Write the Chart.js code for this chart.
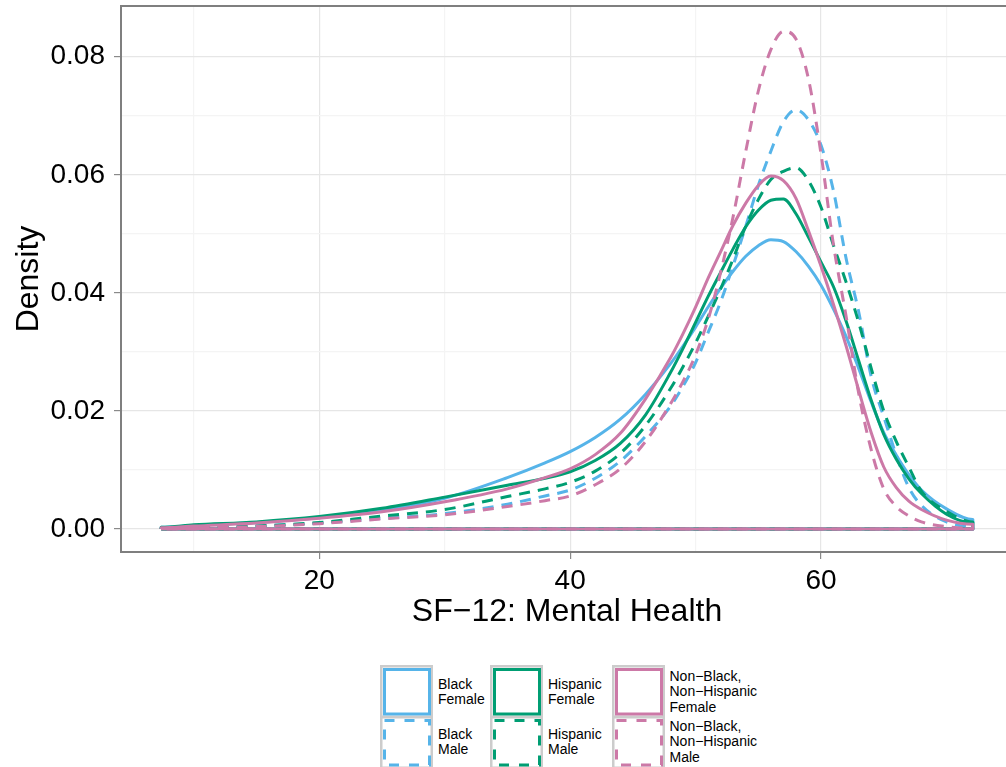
<!DOCTYPE html>
<html><head><meta charset="utf-8">
<script src="https://cdn.jsdelivr.net/npm/chart.js@4.4.1/dist/chart.umd.min.js"></script>
<style>
html,body{margin:0;padding:0;background:#fff;width:1006px;height:767px;overflow:hidden;position:relative;font-family:"Liberation Sans",Arial,sans-serif;}
#c{position:absolute;left:0;top:0;}
.key{position:absolute;top:665px;}
.lab{position:absolute;display:flex;align-items:center;font-size:14px;line-height:15.5px;color:#000;height:52px;white-space:nowrap;}
</style></head><body>
<canvas id="c" width="1020" height="650"></canvas>
<div id="legend"></div>
<script>
// ---- data ----
const xValues = [7.4,10,15,20,25,30,35,38,40,42,44,46,48,49,50,51,52,53,54,55,56,57,58,59,60,61,62,63,64,65,66,67,68,70,72.1];
const blackFemale    = [.0003,.0006,.0011,.0019,.0032,.0052,.0087,.0112,.0131,.0155,.0186,.0228,.0280,.0310,.0342,.0376,.0408,.0437,.0462,.0480,.0490,.0487,.0470,.0445,.0413,.0372,.0326,.0272,.0215,.0163,.0125,.0092,.0066,.0034,.0016];
const blackMale      = [.0001,.0002,.0005,.0010,.0018,.0026,.0042,.0056,.0066,.0086,.0115,.0157,.0208,.0242,.0282,.0333,.0385,.0447,.0513,.0582,.0640,.0690,.0710,.0693,.0650,.0572,.0458,.0368,.0258,.0190,.0125,.0070,.0040,.0012,.0004];
const hispanicFemale = [.0003,.0007,.0012,.0021,.0035,.0054,.0074,.0086,.0097,.0116,.0145,.0193,.0265,.0306,.0350,.0394,.0435,.0475,.0512,.0540,.0557,.0559,.0534,.0494,.0452,.0410,.0352,.0285,.0218,.0160,.0118,.0085,.0060,.0025,.0010];
const hispanicMale   = [.0001,.0002,.0005,.0011,.0022,.0033,.0055,.0068,.0079,.0098,.0128,.0175,.0238,.0275,.0315,.0360,.0407,.0458,.0513,.0558,.0592,.0606,.0612,.0590,.0545,.0480,.0418,.0350,.0272,.0200,.0148,.0105,.0064,.0030,.0012];
const otherFemale    = [.0002,.0005,.0010,.0018,.0029,.0046,.0068,.0087,.0102,.0126,.0162,.0220,.0290,.0331,.0376,.0425,.0470,.0515,.0552,.0582,.0598,.0590,.0560,.0505,.0445,.0380,.0310,.0235,.0163,.0105,.0070,.0047,.0033,.0015,.0008];
const otherMale      = [.0001,.0002,.0004,.0009,.0017,.0024,.0038,.0048,.0056,.0075,.0102,.0148,.0212,.0250,.0295,.0355,.0435,.0530,.0640,.0742,.0812,.0843,.0830,.0762,.0635,.0480,.0360,.0230,.0134,.0068,.0038,.0022,.0012,.0004,.0001];

const seriesNames = ['Black Female','Black Male','Hispanic Female','Hispanic Male','Non\u2212Black, Non\u2212Hispanic Female','Non\u2212Black, Non\u2212Hispanic Male'];
const seriesValues = [blackFemale, blackMale, hispanicFemale, hispanicMale, otherFemale, otherMale];
const seriesColors = ['#56B4E9','#56B4E9','#009E73','#009E73','#CC79A7','#CC79A7'];
const seriesDashed = [false,true,false,true,false,true];

const xTickValues = [10,20,30,40,50,60,70];
const xTickLabels = ['','20','','40','','60',''];
const yTickValues = [0,0.01,0.02,0.03,0.04,0.05,0.06,0.07,0.08];
const yTickLabels = ['0.00','','0.02','','0.04','','0.06','','0.08'];

const legendCols = [
  {names:['Black\nFemale','Black\nMale'], color:'#56B4E9'},
  {names:['Hispanic\nFemale','Hispanic\nMale'], color:'#009E73'},
  {names:['Non\u2212Black,\nNon\u2212Hispanic\nFemale','Non\u2212Black,\nNon\u2212Hispanic\nMale'], color:'#CC79A7'}
];

// density polygon outline (like geom_density): baseline -> curve -> baseline -> back
function polygon(ys){
  const pts = [{x:xValues[0], y:0}];
  xValues.forEach((x,i)=>pts.push({x:x, y:ys[i]}));
  pts.push({x:xValues[xValues.length-1], y:0});
  pts.push({x:xValues[0], y:0});
  return pts;
}

const datasets = seriesValues.map((ys,i)=>({
  label: seriesNames[i],
  data: polygon(ys),
  borderColor: seriesColors[i],
  backgroundColor: 'transparent',
  borderWidth: 3,
  borderDash: seriesDashed[i] ? [11,8] : [],
  borderJoinStyle: 'round',
  pointRadius: 0,
  fill: false,
  cubicInterpolationMode: 'monotone',
  order: seriesValues.length - i
}));

const panelBorder = {
  id:'panelBorder',
  afterDatasetsDraw(chart){
    const {ctx, chartArea:a} = chart;
    ctx.save();
    ctx.strokeStyle = '#7f7f7f';
    ctx.lineWidth = 2;
    ctx.strokeRect(a.left, a.top, a.right - a.left, a.bottom - a.top);
    ctx.restore();
  }
};

const tickFont = {family:'"Liberation Sans", Arial, sans-serif', size:28};
const titleFont = {family:'"Liberation Sans", Arial, sans-serif', size:32};

new Chart(document.getElementById('c'), {
  type:'line',
  data:{datasets},
  plugins:[panelBorder],
  options:{
    responsive:false,
    animation:false,
    layout:{padding:{top:6, right:7, left:0, bottom:0}},
    plugins:{legend:{display:false}, tooltip:{enabled:false}},
    scales:{
      x:{
        type:'linear', min:4.2, max:75.3,
        afterBuildTicks: s => { s.ticks = xTickValues.map(v=>({value:v})); },
        afterFit: s => { s.height = 98; s.paddingLeft = 0; s.paddingRight = 0; },
        ticks:{autoSkip:false, maxRotation:0, padding:5, color:'#000', font:tickFont,
          callback:(v,i)=>xTickLabels[i]},
        grid:{
          color: c => xTickLabels[c.index] ? '#e6e6e6' : '#f4f4f4',
          lineWidth: 1.2,
          tickColor: c => xTickLabels[c.index] ? '#8a8a8a' : 'rgba(0,0,0,0)',
          tickLength: 7, drawTicks:true
        },
        border:{display:false},
        title:{display:true, text:'SF\u221212: Mental Health', color:'#000', font:titleFont, padding:{top:0,bottom:19}}
      },
      y:{
        type:'linear', min:-0.0039, max:0.0886,
        afterBuildTicks: s => { s.ticks = yTickValues.map(v=>({value:v})); },
        afterFit: s => { s.width = 121; s.paddingTop = 0; s.paddingBottom = 0; },
        ticks:{autoSkip:false, padding:9, color:'#000', font:tickFont,
          callback:(v,i)=>yTickLabels[i]},
        grid:{
          color: c => yTickLabels[c.index] ? '#e6e6e6' : '#f4f4f4',
          lineWidth: 1.2,
          tickColor: c => yTickLabels[c.index] ? '#8a8a8a' : 'rgba(0,0,0,0)',
          tickLength: 7, drawTicks:true
        },
        border:{display:false},
        title:{display:true, text:'Density', color:'#000', font:titleFont, padding:{top:10,bottom:0}}
      }
    }
  }
});

// legend (HTML text + SVG keys)
const keyLefts = [380, 490, 611.5];
const legend = document.getElementById('legend');
legendCols.forEach((col, ci)=>{
  const left = keyLefts[ci];
  const svgNS = 'http://www.w3.org/2000/svg';
  const svg = document.createElementNS(svgNS,'svg');
  svg.setAttribute('width','54'); svg.setAttribute('height','105');
  svg.setAttribute('class','key');
  svg.style.left = left + 'px';
  const mk = (x,y,w,h,stroke,sw,dash)=>{
    const r = document.createElementNS(svgNS,'rect');
    r.setAttribute('x',x); r.setAttribute('y',y); r.setAttribute('width',w); r.setAttribute('height',h);
    r.setAttribute('fill','#fff'); r.setAttribute('stroke',stroke); r.setAttribute('stroke-width',sw);
    if(dash) r.setAttribute('stroke-dasharray',dash);
    svg.appendChild(r);
  };
  mk(1.25,1.25,50.5,50.5,'#cccccc',2.5);
  mk(1.25,52.25,50.5,50.5,'#cccccc',2.5);
  mk(4.5,4.5,45,44.5,col.color,3);
  mk(4.5,55.5,45,44.5,col.color,3,'10 10');
  legend.appendChild(svg);
  col.names.forEach((nm, ri)=>{
    const d = document.createElement('div');
    d.className = 'lab';
    d.style.left = (left + 58) + 'px';
    d.style.top = (666 + ri*50) + 'px';
    const inner = document.createElement('div');
    nm.split('\n').forEach((s, k)=>{
      if(k) inner.appendChild(document.createElement('br'));
      inner.appendChild(document.createTextNode(s));
    });
    d.appendChild(inner);
    legend.appendChild(d);
  });
});
</script>
</body></html>
